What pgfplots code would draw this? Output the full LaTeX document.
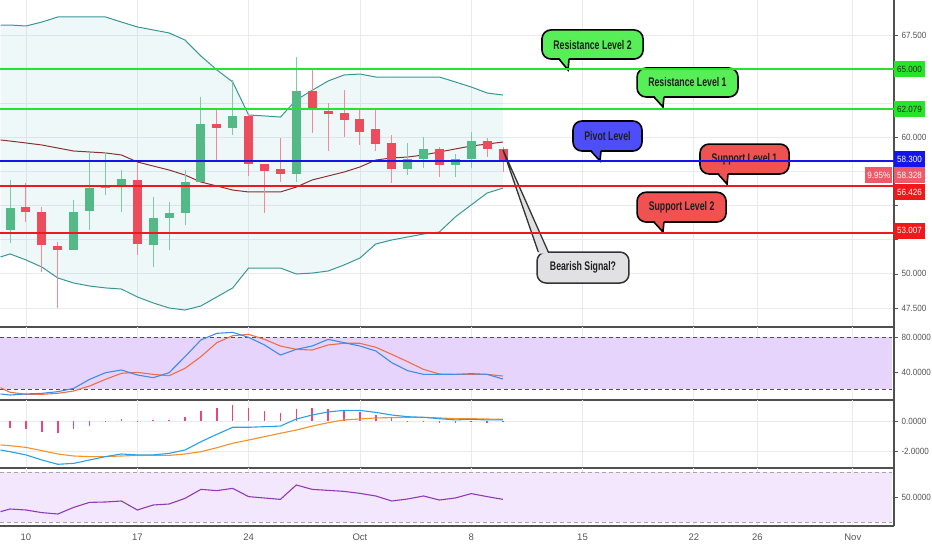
\documentclass[border=0pt]{standalone}
\usepackage{fontspec}
\setmainfont{Liberation Sans}
\newfontfamily\narrowfont[FakeStretch=0.7]{Liberation Sans}
\newfontfamily\tickfam[FakeStretch=0.9]{Liberation Sans}
\usepackage{pgfplots}
\pgfplotsset{compat=1.18}
\usepackage{pgfplotstable}
\usepgfplotslibrary{fillbetween}

\definecolor{candG}{RGB}{83,185,135}
\definecolor{candR}{RGB}{235,77,92}
\definecolor{bandC}{RGB}{56,150,150}
\definecolor{midC}{RGB}{140,50,50}
\definecolor{bandF}{RGB}{56,160,160}
\definecolor{lvG}{RGB}{40,228,40}
\definecolor{lvB}{RGB}{20,20,235}
\definecolor{lvR}{RGB}{240,25,25}
\definecolor{coG}{RGB}{88,238,88}
\definecolor{coB}{RGB}{77,77,250}
\definecolor{coR}{RGB}{240,82,82}
\definecolor{coGr}{RGB}{225,225,228}
\definecolor{gridC}{RGB}{232,234,240}
\definecolor{axisC}{RGB}{80,80,80}
\definecolor{tickC}{RGB}{85,85,85}
\definecolor{stK}{RGB}{64,140,230}
\definecolor{stD}{RGB}{238,110,70}
\definecolor{mdL}{RGB}{40,160,230}
\definecolor{mdS}{RGB}{245,145,40}
\definecolor{mdH}{RGB}{232,70,130}
\definecolor{rsiL}{RGB}{142,60,180}
\definecolor{stF}{RGB}{231,212,252}
\definecolor{rsF}{RGB}{243,231,253}
\definecolor{lastR}{RGB}{238,90,105}

\newcommand\callfont{\narrowfont\bfseries\fontsize{12.5bp}{14bp}\selectfont}
\newcommand\tickfont{\tickfam\fontsize{9bp}{10bp}\selectfont}

% candles: d open high low close
\pgfplotstableread{
d o h l c
-1 53.21 56.88 52.26 54.83
3 51.75 55.41 51.75 54.53
4 54.61 58.93 53.21 56.29
5 56.29 58.93 55.78 56.44
6 56.51 57.61 54.53 56.95
8 52.12 55.63 50.50 54.09
9 54.09 55.27 51.75 54.46
10 54.46 57.61 53.58 56.73
11 56.73 62.96 56.73 60.98
13 60.69 64.20 60.17 61.57
17 57.32 65.89 56.73 63.40
24 57.68 59.59 57.24 58.42
25 58.42 60.03 57.76 59.15
27 57.98 58.78 57.10 58.42
28 58.42 60.39 57.76 59.73
}\greenc
\pgfplotstableread{
d o h l c
0 54.90 56.66 53.80 54.53
1 54.53 54.90 50.14 52.12
2 52.04 52.34 47.50 51.75
7 56.88 58.12 51.38 52.19
12 60.98 62.01 58.20 60.69
14 61.57 61.79 57.17 58.05
15 58.05 58.05 54.46 57.54
16 57.68 59.95 56.73 57.32
18 63.40 64.94 60.32 62.01
19 61.93 62.52 59.00 61.71
20 61.79 63.47 60.03 61.27
21 61.35 62.15 59.44 60.39
22 60.61 62.01 59.00 59.51
23 59.59 60.17 56.66 57.68
26 59.15 59.29 57.10 57.98
29 59.73 59.95 58.56 59.15
30 59.15 59.29 57.46 58.33
}\redc
\pgfplotstableread{
d up mid lo
-1.6 68.23 59.81 51.24
-1 68.23 59.73 51.46
0 68.16 59.59 51.02
1 68.45 59.44 50.50
2 68.82 59.22 49.70
3 68.82 59.00 49.33
4 68.82 58.93 49.11
5 68.82 58.86 48.97
6 68.45 58.71 48.89
7 68.09 58.20 48.31
8 67.87 57.90 47.87
9 67.65 57.61 47.50
10 67.13 57.24 47.35
11 65.96 56.73 47.65
12 64.94 56.44 48.31
13 64.06 56.14 48.97
14 61.64 56.00 50.43
15 61.57 56.00 50.43
16 61.49 56.00 50.43
17 62.74 56.36 49.99
18 63.45 56.88 50.06
19 64.13 57.17 50.21
20 64.57 57.46 50.65
21 64.64 57.83 51.16
22 64.42 58.34 52.19
23 64.42 58.49 52.48
24 64.42 58.56 52.70
25 64.42 58.71 52.92
26 64.42 58.93 53.07
27 64.06 59.15 54.17
28 63.69 59.37 55.05
29 63.25 59.51 55.92
30 63.10 59.66 56.29
}\bands
\pgfplotstableread{
d K D
-1.6 14.9 22.1
-1 13.7 16.8
0 14.9 14.5
1 15.6 14.5
2 17.5 15.6
3 21.3 18.3
4 31.6 24.0
5 39.2 31.6
6 42.3 38.5
7 36.6 39.6
8 33.5 37.3
9 39.2 35.8
10 57.5 44.2
11 76.6 57.5
12 84.2 73.5
13 85.3 81.5
14 79.6 83.0
15 70.9 77.3
16 59.4 69.7
17 65.9 65.9
18 69.7 65.1
19 77.3 70.9
20 73.5 72.8
21 69.7 72.8
22 64.0 68.2
23 50.7 60.2
24 41.5 51.8
25 37.3 43.0
26 37.3 37.7
27 37.3 37.3
28 38.1 37.3
29 37.3 37.3
30 32.0 35.4
}\stoch
\pgfplotstableread{
d macd sig
-1.6 -1.89 -1.56
-1 -2.00 -1.61
0 -2.21 -1.72
1 -2.54 -1.93
2 -2.82 -2.15
3 -2.76 -2.28
4 -2.54 -2.32
5 -2.32 -2.32
6 -2.15 -2.28
7 -2.21 -2.24
8 -2.21 -2.24
9 -2.11 -2.24
10 -1.89 -2.15
11 -1.35 -2.00
12 -0.87 -1.74
13 -0.41 -1.45
14 -0.41 -1.24
15 -0.37 -1.02
16 -0.33 -0.80
17 0.13 -0.59
18 0.39 -0.33
19 0.59 -0.11
20 0.69 0.07
21 0.69 0.13
22 0.56 0.20
23 0.39 0.22
24 0.28 0.24
25 0.24 0.24
26 0.15 0.20
27 0.07 0.15
28 0.11 0.15
29 0.07 0.13
30 0.07 0.11
}\macd
\pgfplotstableread{
d h
-1 -0.48
0 -0.54
1 -0.69
2 -0.76
3 -0.54
4 -0.33
5 -0.02
6 0.13
7 0.01
8 0.07
9 0.07
10 0.24
11 0.67
12 0.83
13 1.04
14 0.87
15 0.67
16 0.54
17 0.78
18 0.87
19 0.78
20 0.67
21 0.61
22 0.39
23 0.22
24 0.02
25 0.01
26 -0.09
27 -0.09
28 -0.05
29 -0.07
30 -0.05
}\hist
\pgfplotstableread{
d r
-1.6 38.3
-1 40.4
0 39.6
1 37.5
2 36.4
3 41.7
4 45.7
5 46.0
6 46.8
7 39.6
8 43.6
9 44.4
10 48.9
11 56.1
12 55.1
13 56.9
14 50.3
15 49.2
16 48.1
17 59.6
18 56.1
19 55.3
20 54.5
21 52.9
22 50.8
23 46.8
24 48.4
25 50.8
26 47.6
27 49.2
28 52.7
29 50.3
30 48.1
}\rsi

% callout: color, x1, ytop, x2, ybottom, base1, base2, tipx, tipy
\newcommand{\callout}[9]{%
  \filldraw[fill=#1, draw=black, line width=1.6bp, rounded corners=9bp] (#2,#3) rectangle (#4,#5);
  \fill[#1] (#6,{#5+0.12}) -- (#8,#9) -- (#7,{#5+0.12}) -- cycle;
  \draw[black, line width=1.6bp, line join=miter] (#6,#5) -- (#8,#9) -- (#7,#5);
}

\pgfplotsset{
  panel/.style={
    scale only axis, width=894bp, anchor=south west,
    xmin=-1.635, xmax=54.59,
    axis x line*=bottom, axis y line*=right,
    axis line style={draw=axisC, line width=1.3bp, -},
    xtick={0,7,14,21,28,35,42,46,52}, xticklabels={},
    xmajorgrids, ymajorgrids,
    major grid style={draw=gridC, line width=0.8bp},
    xtick style={draw=none},
    ytick style={draw=tickC, line width=0.6bp},
    tick align=outside, major tick length=4bp,
    y tick label style={font=\tickfont, text=tickC},
    /pgf/number format/assume math mode=true,
  },
  candle/.style={draw=none, mark=none, error bars/.cd, y dir=both, y explicit, error mark=none, error bar style={#1}},
}

\begin{document}
\begin{tikzpicture}

% ---------- main price panel
\begin{axis}[panel, at={(0bp,223bp)}, height=327bp,
  ymin=46.108, ymax=70.064,
  ytick={47.5,50,...,67.5},
  yticklabels={47.500,50.000,,,,60.000,,,67.500},
  clip=false]
\addplot[draw=none, name path=U] table[x=d,y=up]{\bands};
\addplot[draw=none, name path=L] table[x=d,y=lo]{\bands};
\addplot[bandF, fill opacity=0.08, draw=none] fill between[of=U and L];
\addplot[bandC, line width=1bp] table[x=d,y=up]{\bands};
\addplot[bandC, line width=1bp] table[x=d,y=lo]{\bands};
\addplot[midC, line width=1bp] table[x=d,y=mid]{\bands};
% wicks
\addplot[candle={line width=1bp, draw=candG!75}] table[x=d, y expr={(\thisrow{h}+\thisrow{l})/2}, y error expr={(\thisrow{h}-\thisrow{l})/2}]{\greenc};
\addplot[candle={line width=1bp, draw=candR!65}] table[x=d, y expr={(\thisrow{h}+\thisrow{l})/2}, y error expr={(\thisrow{h}-\thisrow{l})/2}]{\redc};
% bodies
\addplot[candle={line width=9bp, draw=candG}] table[x=d, y expr={(\thisrow{o}+\thisrow{c})/2}, y error expr={max(abs(\thisrow{c}-\thisrow{o})/2,0.06)}]{\greenc};
\addplot[candle={line width=9bp, draw=candR}] table[x=d, y expr={(\thisrow{o}+\thisrow{c})/2}, y error expr={max(abs(\thisrow{c}-\thisrow{o})/2,0.06)}]{\redc};

% callouts
\callout{coG}{32.45}{67.87}{38.81}{65.74}{33.52}{34.15}{34.09}{64.94}
\node[font=\callfont, text=black!88] at (35.63,66.80) {Resistance Level 2};
\callout{coG}{38.43}{65.08}{44.78}{62.96}{39.49}{40.12}{40.06}{62.23}
\node[font=\callfont, text=black!88] at (41.60,64.02) {Resistance Level 1};
\callout{coB}{34.40}{61.20}{38.74}{59.00}{35.53}{36.16}{36.10}{58.27}
\node[font=\callfont, text=black!88] at (36.57,60.10) {Pivot Level};
\callout{coR}{42.39}{59.51}{47.99}{57.32}{43.52}{44.15}{44.09}{56.58}
\node[font=\callfont, text=black!88] at (45.19,58.41) {Support Level 1};
\callout{coR}{38.43}{55.98}{44.03}{53.80}{39.49}{40.12}{40.06}{53.07}
\node[font=\callfont, text=black!88] at (41.23,54.89) {Support Level 2};
% bearish callout, pointer upward
\filldraw[fill=coGr, draw=black!80, line width=1.5bp, rounded corners=9bp] (32.14,51.60) rectangle (37.92,49.33);
\fill[coGr] (32.22,51.48) -- (30.0,59.08) -- (32.85,51.48) -- cycle;
\draw[black!80, line width=1.3bp, line join=miter] (32.22,51.60) -- (30.0,59.08) -- (32.85,51.60);
\node[font=\callfont, text=black!88] at (35.03,50.46) {Bearish Signal?};

% level lines
\addplot[lvG, line width=2bp] coordinates {(-1.635,65) (54.59,65)};
\addplot[lvG, line width=2bp] coordinates {(-1.635,62.079) (54.59,62.079)};
\addplot[lvB, line width=2bp] coordinates {(-1.635,58.3) (54.59,58.3)};
\addplot[lvR, line width=2bp] coordinates {(-1.635,56.426) (54.59,56.426)};
\addplot[lvR, line width=2bp] coordinates {(-1.635,53.007) (54.59,53.007)};

% price labels
\node[anchor=west, font=\tickfont, inner xsep=3bp, inner ysep=0pt, minimum height=16bp, fill=lvG, text=black!85] at (54.59,65) {65.000};
\node[anchor=west, font=\tickfont, inner xsep=3bp, inner ysep=0pt, minimum height=16bp, fill=lvG, text=black!85] at (54.59,62.079) {62.079};
\node[anchor=west, font=\tickfont, inner xsep=3bp, inner ysep=0pt, minimum height=16bp, fill=lvB, text=white] at (54.59,58.38) {58.300};
\node[anchor=west, font=\tickfont, inner xsep=3bp, inner ysep=0pt, minimum height=16bp, fill=lastR, text=white] at (54.59,57.21) {58.328};
\node[anchor=east, font=\tickfont, inner xsep=2bp, inner ysep=0pt, minimum height=16bp, fill=lastR, text=white] at (54.50,57.21) {9.95\%};
\node[anchor=west, font=\tickfont, inner xsep=3bp, inner ysep=0pt, minimum height=16bp, fill=lvR, text=white] at (54.59,56.0) {56.426};
\node[anchor=west, font=\tickfont, inner xsep=3bp, inner ysep=0pt, minimum height=16bp, fill=lvR, text=white] at (54.59,53.16) {53.007};
\end{axis}

% ---------- stochastic panel
\begin{axis}[panel, at={(0bp,150bp)}, height=73bp,
  ymin=8, ymax=91.43, ytick={40,80}, yticklabels={40.0000,80.0000}]
\addplot[fill=stF, draw=none] coordinates {(-1.635,20) (54.47,20) (54.47,80) (-1.635,80)} -- cycle;
\addplot[axisC, line width=0.9bp, dash pattern=on 4bp off 3bp] coordinates {(-1.635,80) (54.47,80)};
\addplot[axisC, line width=0.9bp, dash pattern=on 4bp off 3bp] coordinates {(-1.635,20) (54.47,20)};
\addplot[stD, line width=1.1bp] table[x=d,y=D]{\stoch};
\addplot[stK, line width=1.1bp] table[x=d,y=K]{\stoch};
\end{axis}

% ---------- MACD panel
\begin{axis}[panel, at={(0bp,82bp)}, height=68bp,
  ymin=-3.062, ymax=1.368, ytick={-2,0}, yticklabels={-2.0000,0.0000}]
\addplot[candle={line width=1.5bp, draw=mdH}] table[x=d, y expr={\thisrow{h}/2}, y error expr={abs(\thisrow{h})/2}]{\hist};
\addplot[mdS, line width=1.1bp] table[x=d,y=sig]{\macd};
\addplot[mdL, line width=1.1bp] table[x=d,y=macd]{\macd};
\end{axis}

% ---------- RSI panel
\begin{axis}[panel, at={(0bp,24bp)}, height=58bp,
  ymin=26.8, ymax=73.2, ytick={50}, yticklabels={50.0000},
  xticklabels={10,17,24,Oct,8,15,22,26,Nov},
  x tick label style={font=\fontsize{9.5bp}{11bp}\selectfont, text=tickC}]
\addplot[fill=rsF, draw=none] coordinates {(-1.635,30) (54.47,30) (54.47,70) (-1.635,70)} -- cycle;
\addplot[black!35, line width=0.9bp, dash pattern=on 4bp off 3bp] coordinates {(-1.635,70) (54.47,70)};
\addplot[black!35, line width=0.9bp, dash pattern=on 4bp off 3bp] coordinates {(-1.635,30) (54.47,30)};
\addplot[rsiL, line width=1.1bp] table[x=d,y=r]{\rsi};
\end{axis}
\pgfresetboundingbox
\path[use as bounding box] (0bp,0bp) rectangle (932bp,550bp);
\end{tikzpicture}
\end{document}
